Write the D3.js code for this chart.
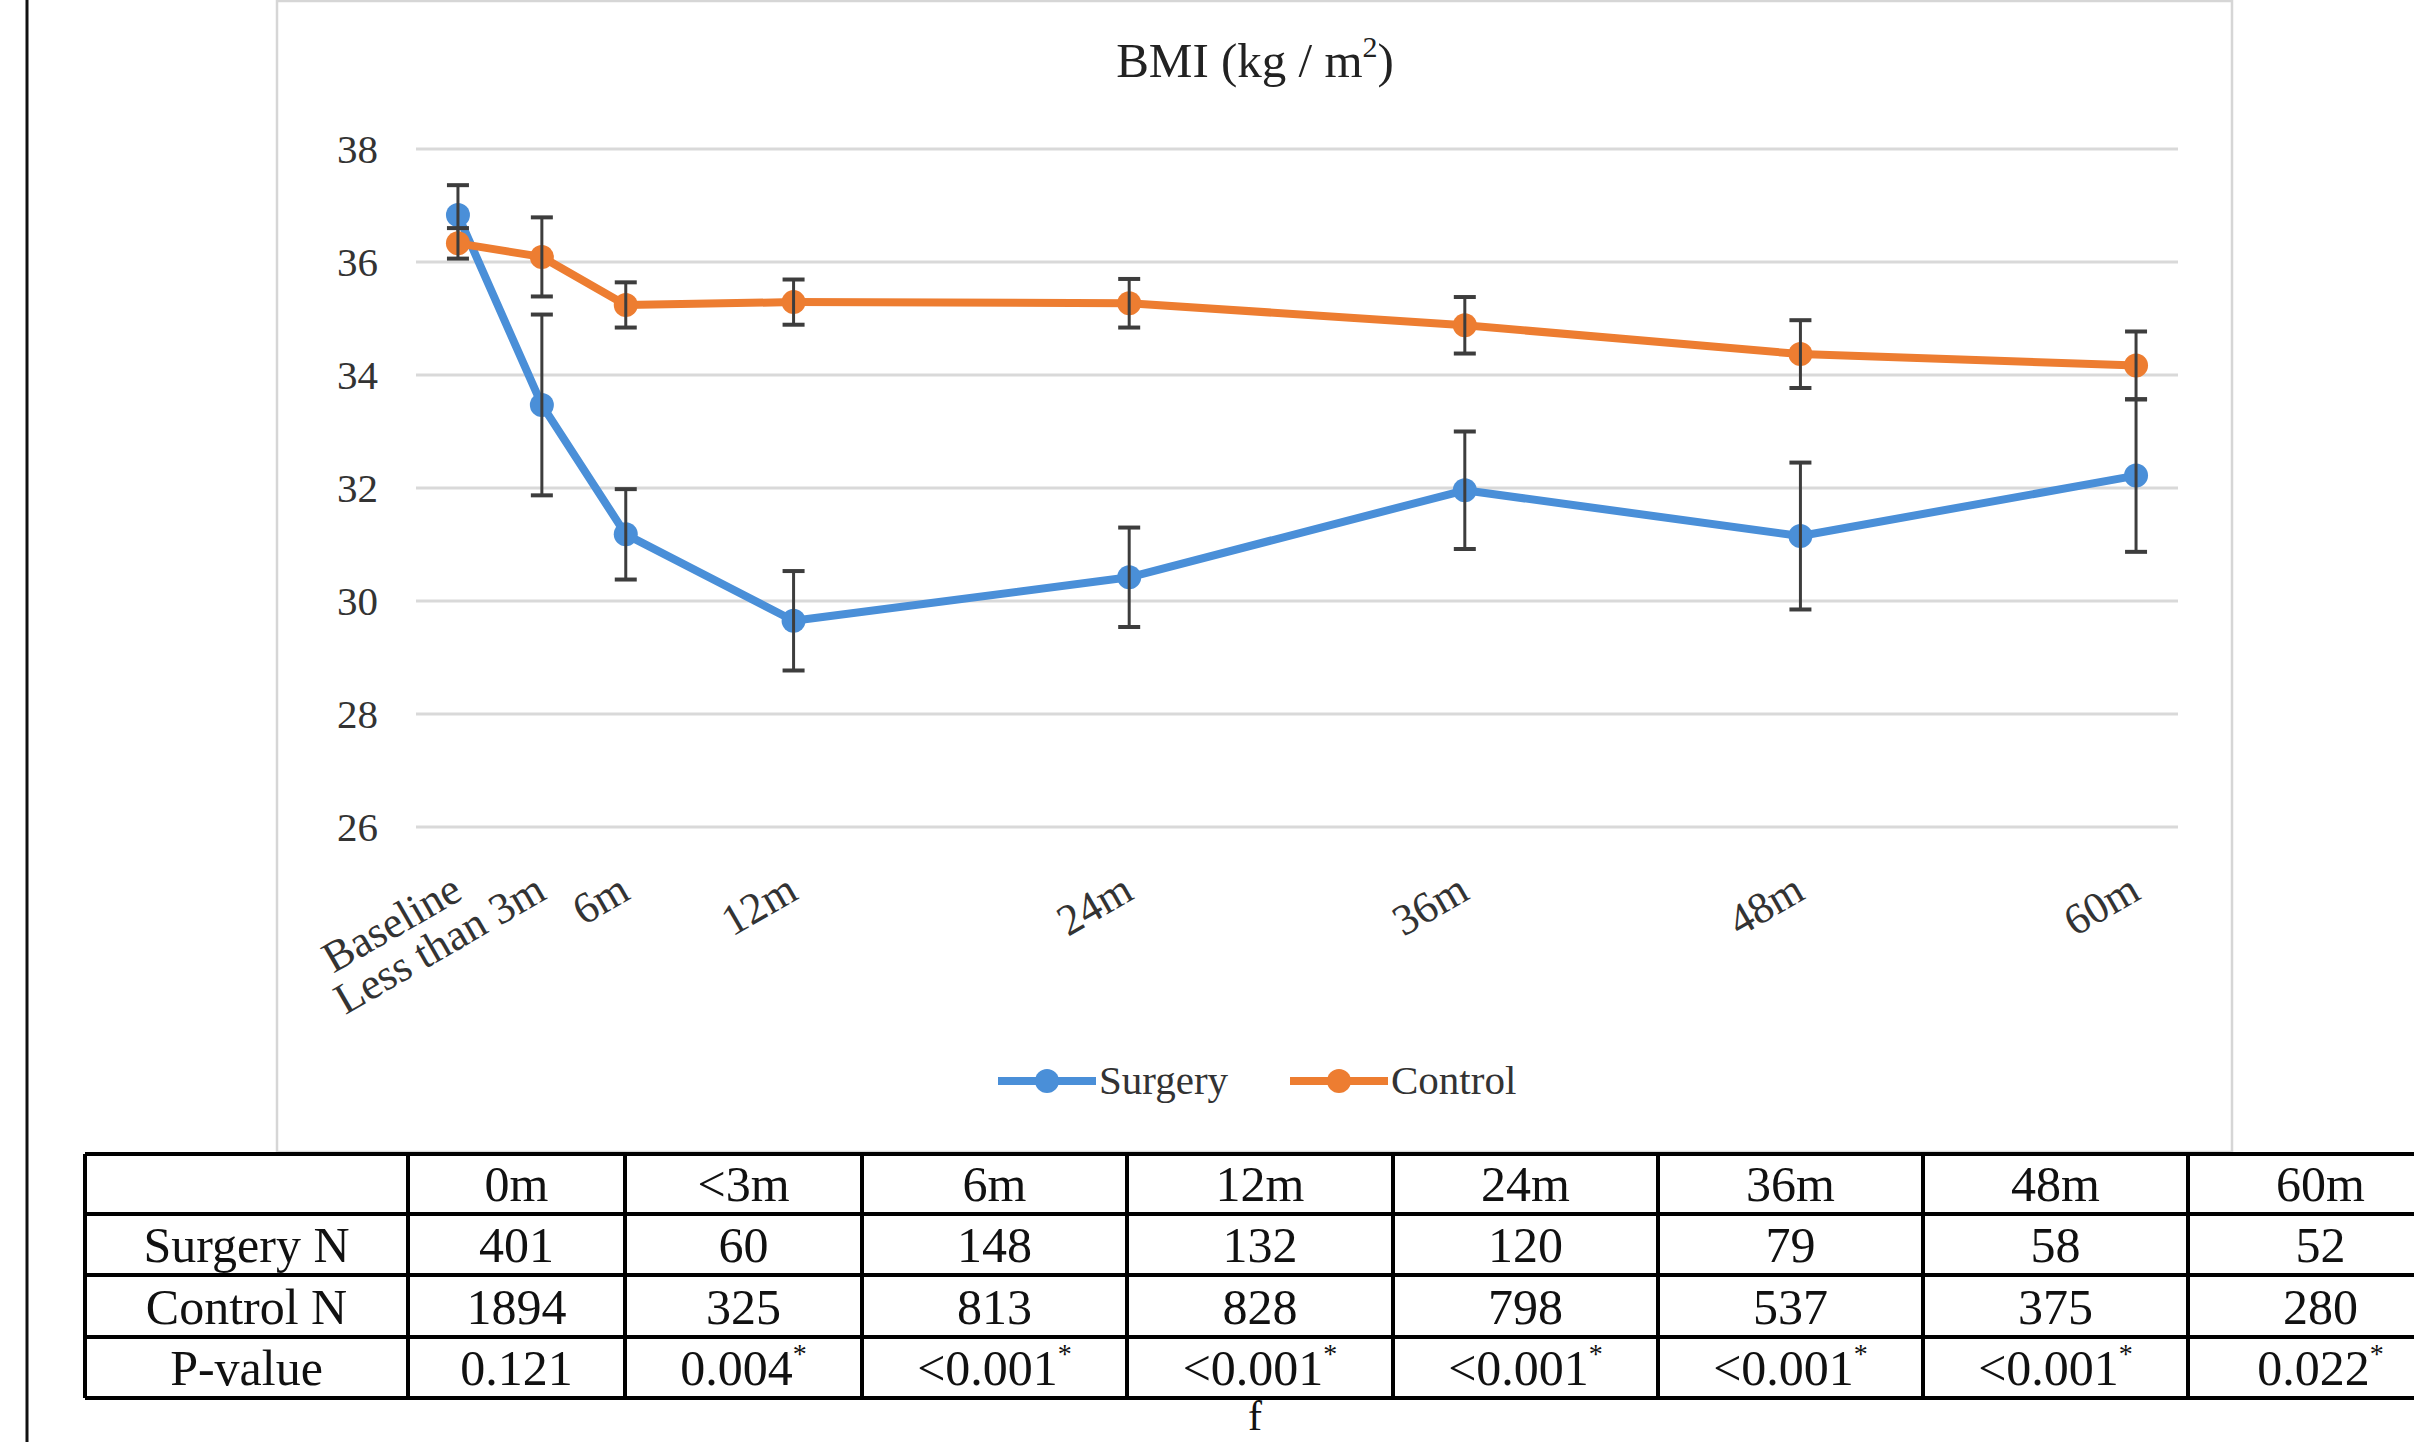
<!DOCTYPE html>
<html>
<head>
<meta charset="utf-8">
<script src="https://cdn.jsdelivr.net/npm/d3@7"></script>
<style>
  html, body { margin: 0; padding: 0; background: #fff; }
  svg { display: block; font-family: "Liberation Serif", "Times New Roman", serif; }
</style>
</head>
<body>
<div id="chart"></div>
<script>
// chart data
const months = [0, 3, 6, 12, 24, 36, 48, 60];
const tickLabels = ["Baseline", "Less than 3m", "6m", "12m", "24m", "36m", "48m", "60m"];
const surgeryMean = [36.83, 33.47, 31.18, 29.65, 30.42, 31.96, 31.15, 32.22];
const surgeryErr = [0.53, 1.6, 0.8, 0.88, 0.88, 1.04, 1.3, 1.35];
const controlMean = [36.33, 36.09, 35.24, 35.29, 35.27, 34.88, 34.37, 34.17];
const controlErr = [0.27, 0.7, 0.4, 0.4, 0.43, 0.5, 0.6, 0.6];
const yTicks = [26, 28, 30, 32, 34, 36, 38];

// table data
const tableHeads = ["0m", "<3m", "6m", "12m", "24m", "36m", "48m", "60m"];
const surgeryN = [401, 60, 148, 132, 120, 79, 58, 52];
const controlN = [1894, 325, 813, 828, 798, 537, 375, 280];
const pValues = ["0.121", "0.004", "<0.001", "<0.001", "<0.001", "<0.001", "<0.001", "0.022"];
const pSignificant = [false, true, true, true, true, true, true, true];

const W = 2414, H = 1442;
const BLUE = "#4a8fd8", ORANGE = "#ed7d31";

const svg = d3.select("#chart").append("svg")
    .attr("width", W)
    .attr("height", H);

svg.append("rect").attr("width", W).attr("height", H).attr("fill", "#fff");

// page rule on the left
svg.append("line")
    .attr("x1", 27).attr("x2", 27).attr("y1", 0).attr("y2", H)
    .attr("stroke", "#111").attr("stroke-width", 3);

// chart frame
svg.append("rect")
    .attr("x", 277).attr("y", 1)
    .attr("width", 1955).attr("height", 1151)
    .attr("fill", "#fff")
    .attr("stroke", "#d6d6d6").attr("stroke-width", 2.5);

const x = d3.scaleLinear().domain([-1.5, 61.5]).range([416, 2178]);
const y = d3.scaleLinear().domain([26, 38]).range([827, 149]);

// title
const title = svg.append("text")
    .attr("x", 1255).attr("y", 77)
    .attr("text-anchor", "middle")
    .attr("font-size", 49)
    .attr("fill", "#222");
title.append("tspan").text("BMI (kg / m");
title.append("tspan").attr("font-size", 30).attr("dy", -20).text("2");
title.append("tspan").attr("dy", 20).text(")");

// gridlines
svg.append("g")
    .selectAll("line")
    .data(yTicks)
    .join("line")
    .attr("x1", x.range()[0]).attr("x2", x.range()[1])
    .attr("y1", d => y(d)).attr("y2", d => y(d))
    .attr("stroke", "#d9d9d9").attr("stroke-width", 3);

// y axis labels
const yAxis = svg.append("g")
    .attr("transform", "translate(390,0)")
    .call(d3.axisLeft(y).tickValues(yTicks).tickSize(0).tickPadding(12));
yAxis.select(".domain").remove();
yAxis.selectAll("text")
    .attr("font-family", "Liberation Serif")
    .attr("font-size", 41)
    .attr("fill", "#333");

// x axis labels (rotated)
const xAxis = svg.append("g")
    .attr("transform", "translate(0,898)")
    .call(d3.axisBottom(x).tickValues(months).tickSize(0)
        .tickFormat((d, i) => tickLabels[i]));
xAxis.select(".domain").remove();
xAxis.selectAll("text")
    .attr("font-family", "Liberation Serif")
    .attr("font-size", 44)
    .attr("fill", "#333")
    .attr("text-anchor", "end")
    .attr("y", 0)
    .attr("dy", 0)
    .attr("transform", "translate(6,0) rotate(-30)");

function drawSeries(mean, err, colour) {
    const pts = months.map((m, i) => ({m, v: mean[i], e: err[i]}));
    const g = svg.append("g");
    g.append("path")
        .datum(pts)
        .attr("fill", "none")
        .attr("stroke", colour)
        .attr("stroke-width", 8)
        .attr("stroke-linejoin", "round")
        .attr("d", d3.line().x(d => x(d.m)).y(d => y(d.v)));
    g.selectAll("circle")
        .data(pts)
        .join("circle")
        .attr("cx", d => x(d.m))
        .attr("cy", d => y(d.v))
        .attr("r", 12)
        .attr("fill", colour);
    const eb = g.selectAll("g.err").data(pts).join("g").attr("class", "err")
        .attr("stroke", "#3d3d3d").attr("stroke-width", 3);
    eb.append("line")
        .attr("x1", d => x(d.m)).attr("x2", d => x(d.m))
        .attr("y1", d => y(d.v + d.e)).attr("y2", d => y(d.v - d.e));
    eb.append("line")
        .attr("x1", d => x(d.m) - 11).attr("x2", d => x(d.m) + 11)
        .attr("y1", d => y(d.v + d.e)).attr("y2", d => y(d.v + d.e))
        .attr("stroke-width", 4);
    eb.append("line")
        .attr("x1", d => x(d.m) - 11).attr("x2", d => x(d.m) + 11)
        .attr("y1", d => y(d.v - d.e)).attr("y2", d => y(d.v - d.e))
        .attr("stroke-width", 4);
}

drawSeries(surgeryMean, surgeryErr, BLUE);
drawSeries(controlMean, controlErr, ORANGE);

// legend
const legend = [
    {name: "Surgery", colour: BLUE, x: 998},
    {name: "Control", colour: ORANGE, x: 1290}
];
const lg = svg.append("g").selectAll("g").data(legend).join("g")
    .attr("transform", d => `translate(${d.x},1081)`);
lg.append("line").attr("x1", 0).attr("x2", 98)
    .attr("stroke", d => d.colour).attr("stroke-width", 8);
lg.append("circle").attr("cx", 49).attr("r", 12).attr("fill", d => d.colour);
lg.append("text").attr("x", 101).attr("y", 13)
    .attr("font-size", 41).attr("fill", "#333")
    .text(d => d.name);

// table below the chart
const colEdges = [85, 408, 625, 862, 1127, 1393, 1658, 1923, 2188, 2453];
const rowEdges = [1154, 1214, 1275, 1337, 1398];
const rows = [
    ["", ...tableHeads],
    ["Surgery N", ...surgeryN],
    ["Control N", ...controlN],
    ["P-value", ...pValues]
];
const tbl = svg.append("g");
rows.forEach((row, r) => {
    row.forEach((cell, c) => {
        const cx = (colEdges[c] + colEdges[c + 1]) / 2;
        const t = tbl.append("text")
            .attr("x", cx)
            .attr("y", rowEdges[r + 1] - 13)
            .attr("text-anchor", "middle")
            .attr("font-size", 50)
            .attr("fill", "#111");
        t.append("tspan").text(cell);
        if (r === 3 && c > 0 && pSignificant[c - 1]) {
            t.append("tspan").attr("font-size", 28).attr("dy", -22).text("*");
        }
    });
});
rowEdges.forEach(ry => {
    tbl.append("line")
        .attr("x1", colEdges[0]).attr("x2", colEdges[colEdges.length - 1])
        .attr("y1", ry).attr("y2", ry)
        .attr("stroke", "#000").attr("stroke-width", 4);
});
colEdges.forEach(cx => {
    tbl.append("line")
        .attr("x1", cx).attr("x2", cx)
        .attr("y1", rowEdges[0]).attr("y2", rowEdges[rowEdges.length - 1])
        .attr("stroke", "#000").attr("stroke-width", 4);
});

svg.append("text")
    .attr("x", 1255).attr("y", 1430)
    .attr("text-anchor", "middle")
    .attr("font-size", 42)
    .attr("fill", "#111")
    .text("f");
</script>
</body>
</html>
